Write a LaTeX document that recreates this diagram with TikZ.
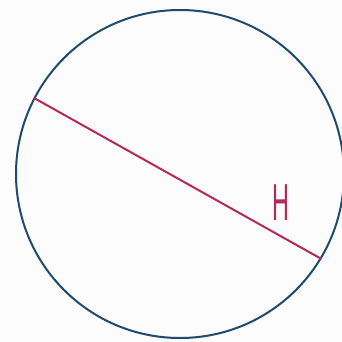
\documentclass[tikz,border=0pt]{standalone}
\usepackage{fontspec}
\usetikzlibrary{calc}
\setmainfont{Liberation Sans}
\begin{document}
\begin{tikzpicture}[x=1pt,y=-1pt,
  rim/.style={draw=rimblue,line width=2pt},
  chord/.style={draw=chordred,line width=2pt,line cap=round},
  lbl/.style={text=chordred,font=\fontsize{52}{52}\selectfont,xscale=0.45,inner sep=0pt}]
\definecolor{rimblue}{RGB}{30,75,110}
\definecolor{chordred}{RGB}{180,40,90}
\fill[white!99!black] (0,0) rectangle (342,342);
\useasboundingbox (0,0) rectangle (342,342);
\coordinate (o) at (180,174);
\draw[rim] (o) circle[radius=164];
\coordinate (a) at ($(o)+(207.5:164)$);
\coordinate (b) at ($(o)+(31:164)$);
\draw[chord] (a) -- (b);
\node[lbl] (h) at (281,203) {H};
\end{tikzpicture}
\end{document}
